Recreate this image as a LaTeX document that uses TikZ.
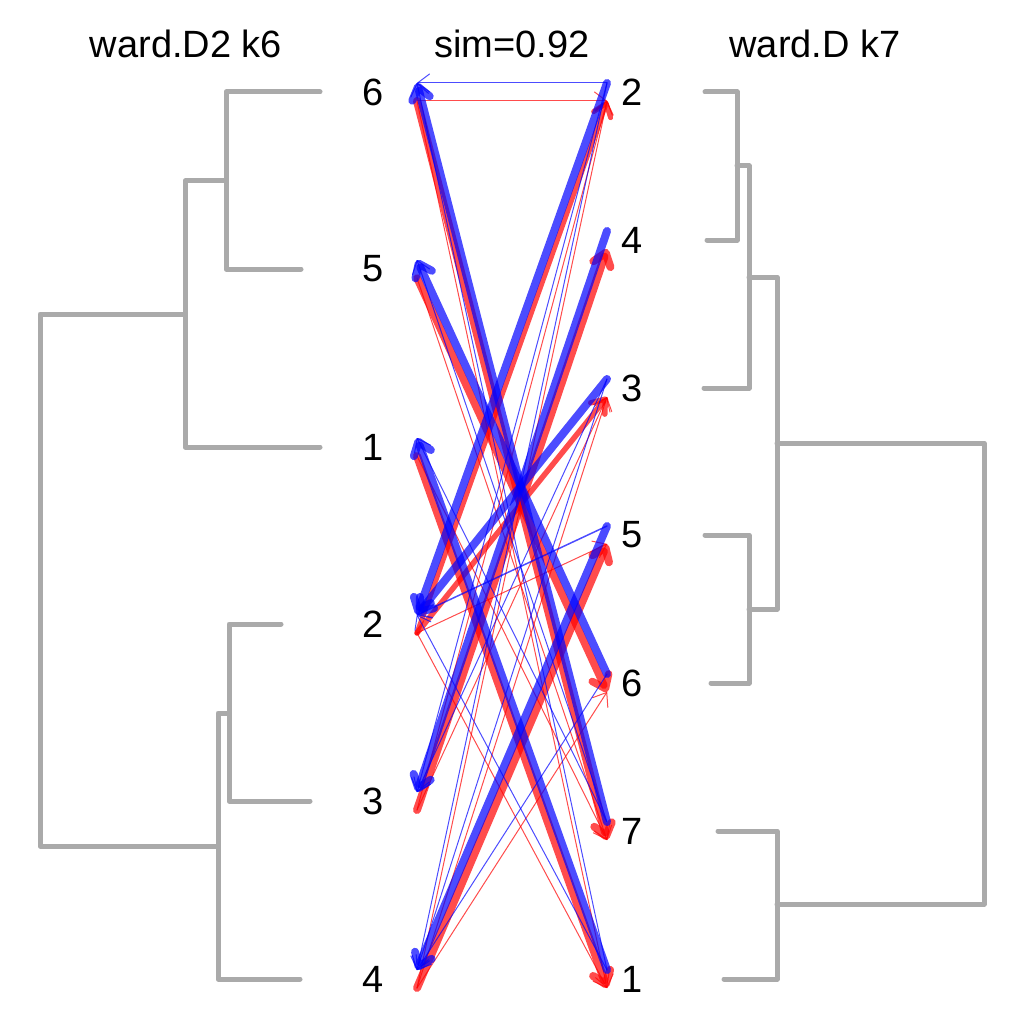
\documentclass[tikz,border=0pt]{standalone}
\usepackage{fontspec}
\setmainfont{Liberation Sans}
\usetikzlibrary{arrows.meta}
\definecolor{dgray}{RGB}{170,170,170}
\begin{document}
\begin{tikzpicture}[x=1pt,y=-1pt,
  dend/.style={draw=dgray, line width=5pt, line cap=round, line join=round},
  lab/.style={font=\fontsize{38}{40}\selectfont, inner sep=0pt},
  redarr/.style={draw=red, draw opacity=0.7, line cap=round, -{Straight Barb[round,length=12pt,width=18pt]}},
  bluearr/.style={draw=blue, draw opacity=0.7, line cap=round, -{Straight Barb[round,length=12pt,width=18pt]}}]
\useasboundingbox (0,0) rectangle (1024,1024);
% titles
\node[lab] (t1) at (186,44) {ward.D2 k6};
\node[lab] (t2) at (512,44) {sim=0.92};
\node[lab] (t3) at (815,44) {ward.D k7};
% left dendrogram
\draw[dend] (320,92) -- (226,92) -- (226,269) -- (301,269);
\draw[dend] (226,181) -- (185,181) -- (185,447) -- (320,447);
\draw[dend] (185,314) -- (40,314) -- (40,846) -- (218,846);
\draw[dend] (281,624) -- (229,624) -- (229,801) -- (310,801);
\draw[dend] (229,713) -- (218,713) -- (218,979) -- (300,979);
% right dendrogram
\draw[dend] (705,92) -- (737,92) -- (737,240) -- (707,240);
\draw[dend] (737,166) -- (749,166) -- (749,388) -- (704,388);
\draw[dend] (749,277) -- (777,277) -- (777,609) -- (749,609);
\draw[dend] (705,535) -- (749,535) -- (749,683) -- (711,683);
\draw[dend] (777,443) -- (984,443) -- (984,904) -- (777,904);
\draw[dend] (718,831) -- (777,831) -- (777,979) -- (724,979);
% labels and arrow end points
\foreach \n/\y in {6/92,5/269,1/447,2/624,3/801,4/979}{
  \node[lab] (L\n) at (373,\y) {\n};
  \coordinate (Lb\n) at (417,\y-9);
  \coordinate (Lr\n) at (417,\y+9);
}
\foreach \n/\y in {2/92,4/240,3/388,5/535,6/683,7/831,1/979}{
  \node[lab] (R\n) at (632,\y) {\n};
  \coordinate (Rb\n) at (607,\y-9);
  \coordinate (Rr\n) at (607,\y+9);
}
% red arrows: left -> right
\foreach \l/\r/\w in {6/2/1,6/1/1,5/7/1,2/5/1,2/1/1,4/6/1,3/2/1,4/2/1,3/3/1,4/3/1,1/7/1,
                      6/7/8,5/6/7.5,1/1/8,4/5/8,3/4/8,2/3/5.5,2/2/5}{
  \draw[redarr, line width=\w pt] (Lr\l) -- (Rr\r);
}
% blue arrows: right -> left
\foreach \l/\r/\w in {6/2/1,6/1/1,5/7/1,2/5/1.5,2/1/1,4/6/1,3/2/1,4/2/1,3/3/1,4/3/1,1/7/1,
                      6/7/8,5/6/8,1/1/8,4/5/8,3/4/8,2/3/8,2/2/8}{
  \draw[bluearr, line width=\w pt] (Rb\r) -- (Lb\l);
}
\end{tikzpicture}
\end{document}
